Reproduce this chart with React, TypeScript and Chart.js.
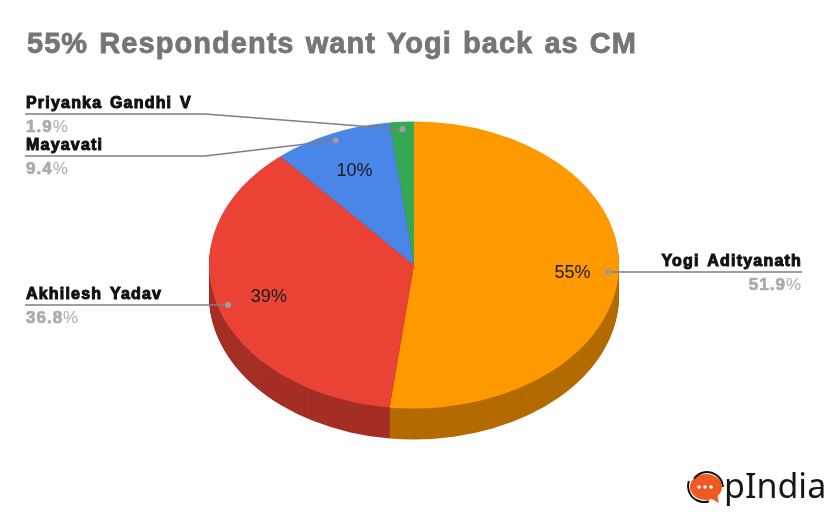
import React, { useEffect, useRef } from "react";
import { Chart, registerables } from "chart.js";

Chart.register(...registerables);

const titleText = "55% Respondents want Yogi back as CM";
const categories = ["Yogi Adityanath", "Akhilesh Yadav", "Mayavati", "Priyanka Gandhi V"];
const shares = [51.9, 36.8, 9.4, 1.9];
const shareLabels = ["51.9", "36.8", "9.4", "1.9"];
const sliceLabels = ["55%", "39%", "10%", ""];
const topColors = ["#FF9900", "#EA4335", "#4A86E8", "#34A853"];
const sideColors = ["#B36B00", "#A42F25", "#345EA2", "#24763A"];
const brandText = "pIndia";

const FONT = '"Liberation Sans", Arial, sans-serif';
const SQUASH = 0.7;
const DEPTH = 31;
const LABEL_LEFT = 26;
const LABEL_RIGHT = 802;
const ELBOW_X = 205;
// label underline y for each category
const labelLineY = [272, 305, 156, 114];
// where each slice's percentage sits along its radius
const sliceLabelRadius = [0.775, 0.74, 0.72, 0];

function tilted(ctx: CanvasRenderingContext2D, cx: number, cy: number, dy: number) {
  ctx.translate(cx, cy + dy);
  ctx.scale(1, SQUASH);
  ctx.translate(-cx, -cy);
}

const pie3d = {
  id: "pie3d",
  beforeDatasetsDraw(chart: any) {
    const ctx: CanvasRenderingContext2D = chart.ctx;
    const arcs = chart.getDatasetMeta(0).data;
    ctx.save();
    ctx.fillStyle = "#ffffff";
    ctx.fillRect(0, 0, chart.width, chart.height);
    ctx.restore();
    for (let d = DEPTH; d >= 1; d--) {
      arcs.forEach((a: any, i: number) => {
        ctx.save();
        tilted(ctx, a.x, a.y, d);
        ctx.beginPath();
        ctx.moveTo(a.x, a.y);
        ctx.arc(a.x, a.y, a.outerRadius, a.startAngle, a.endAngle);
        ctx.closePath();
        ctx.fillStyle = sideColors[i];
        ctx.fill();
        ctx.restore();
      });
    }
    ctx.save();
    tilted(ctx, arcs[0].x, arcs[0].y, 0);
  },
  afterDatasetsDraw(chart: any) {
    const ctx: CanvasRenderingContext2D = chart.ctx;
    ctx.restore();
    const arcs = chart.getDatasetMeta(0).data;

    const at = (a: any, f: number) => {
      const m = (a.startAngle + a.endAngle) / 2;
      return {
        x: a.x + Math.cos(m) * a.outerRadius * f,
        y: a.y + Math.sin(m) * a.outerRadius * f * SQUASH,
      };
    };

    ctx.save();
    ctx.textBaseline = "alphabetic";

    // slice percentages
    ctx.font = `18px ${FONT}`;
    ctx.textAlign = "center";
    ctx.textBaseline = "middle";
    ctx.fillStyle = "#1a1a1a";
    arcs.forEach((a: any, i: number) => {
      if (!sliceLabels[i]) return;
      const p = at(a, sliceLabelRadius[i]);
      ctx.fillText(sliceLabels[i], p.x, p.y + 1);
    });
    ctx.textBaseline = "alphabetic";

    // leader lines and dots
    arcs.forEach((a: any, i: number) => {
      const p = at(a, 0.948);
      const ly = labelLineY[i];
      ctx.strokeStyle = "#7f7f7f";
      ctx.lineWidth = 1.4;
      ctx.beginPath();
      if (i === 0) {
        ctx.moveTo(p.x, ly);
        ctx.lineTo(LABEL_RIGHT, ly);
      } else if (i === 1) {
        ctx.moveTo(LABEL_LEFT - 1, ly);
        ctx.lineTo(p.x, ly);
      } else {
        ctx.moveTo(LABEL_LEFT - 1, ly);
        ctx.lineTo(ELBOW_X, ly);
        ctx.lineTo(p.x, p.y);
      }
      ctx.stroke();
      ctx.fillStyle = "#9e9e9e";
      ctx.beginPath();
      ctx.arc(p.x, i < 2 ? ly : p.y, 3, 0, Math.PI * 2);
      ctx.fill();
    });

    // category labels
    categories.forEach((name, i) => {
      const ly = labelLineY[i];
      const right = i === 0;
      (ctx as any).letterSpacing = "1.2px";
      (ctx as any).wordSpacing = "2px";
      ctx.font = `bold 16px ${FONT}`;
      ctx.textAlign = right ? "right" : "left";
      ctx.fillStyle = "#111111";
      ctx.strokeStyle = "#111111";
      ctx.lineWidth = 1;
      const x = right ? LABEL_RIGHT : LABEL_LEFT;
      ctx.strokeText(name, x, ly - 6);
      ctx.fillText(name, x, ly - 6);

      (ctx as any).letterSpacing = "1px";
      ctx.fillStyle = "#ababab";
      ctx.strokeStyle = "#ababab";
      ctx.lineWidth = 0.7;
      const num = shareLabels[i];
      const boldNum = `bold 17px ${FONT}`;
      const pctFont = `17px ${FONT}`;
      ctx.font = boldNum;
      const numW = ctx.measureText(num).width;
      ctx.textAlign = "left";
      ctx.font = pctFont;
      const pctW = ctx.measureText("%").width;
      const x0 = right ? LABEL_RIGHT - numW - pctW : LABEL_LEFT;
      ctx.font = boldNum;
      ctx.strokeText(num, x0, ly + 18);
      ctx.fillText(num, x0, ly + 18);
      ctx.font = pctFont;
      ctx.fillText("%", x0 + numW, ly + 18);
    });

    // title
    (ctx as any).letterSpacing = "1.05px";
    (ctx as any).wordSpacing = "2px";
    ctx.font = `bold 29px ${FONT}`;
    ctx.textAlign = "left";
    ctx.fillStyle = "#757575";
    ctx.strokeStyle = "#757575";
    ctx.lineWidth = 0.8;
    ctx.strokeText(titleText, 27, 53);
    ctx.fillText(titleText, 27, 53);
    (ctx as any).letterSpacing = "0px";
    (ctx as any).wordSpacing = "0px";

    // brand mark
    ctx.fillStyle = "#F05A22";
    ctx.beginPath();
    ctx.ellipse(706, 487, 16, 13, 0, 0, Math.PI * 2);
    ctx.fill();
    ctx.beginPath();
    ctx.moveTo(710, 498);
    ctx.lineTo(719, 503);
    ctx.lineTo(717, 494);
    ctx.closePath();
    ctx.fill();
    ctx.strokeStyle = "#111111";
    ctx.lineWidth = 2;
    ctx.beginPath();
    ctx.arc(707, 488, 16, Math.PI * 1.2, Math.PI * 1.98);
    ctx.stroke();
    ctx.beginPath();
    ctx.arc(704, 486, 16, Math.PI * 0.4, Math.PI * 1.1);
    ctx.stroke();
    ctx.fillStyle = "#ffffff";
    [-6, 0, 6].forEach((dx) => {
      ctx.beginPath();
      ctx.arc(705 + dx, 487, 1.8, 0, Math.PI * 2);
      ctx.fill();
    });
    ctx.font = `34px "Noto Sans", sans-serif`;
    ctx.fillStyle = "#161616";
    ctx.textAlign = "left";
    ctx.fillText(brandText, 724, 498);
    ctx.restore();
  },
};

export default function App() {
  const ref = useRef<HTMLCanvasElement>(null);
  useEffect(() => {
    const chart = new Chart(ref.current as HTMLCanvasElement, {
      type: "pie",
      data: {
        labels: categories,
        datasets: [
          { data: shares, backgroundColor: topColors, borderWidth: 0, clip: false } as any,
        ],
      },
      options: {
        responsive: false,
        animation: false,
        layout: { padding: { top: 60, bottom: 42, left: 0, right: 0 } },
        plugins: { legend: { display: false }, tooltip: { enabled: false }, title: { display: false } },
      },
      plugins: [pie3d],
    });
    return () => chart.destroy();
  }, []);
  return (
    <div style={{ position: "absolute", left: 0, top: 0, width: 828, height: 512, background: "#fff" }}>
      <canvas ref={ref} width={828} height={512} style={{ display: "block" }} />
    </div>
  );
}
